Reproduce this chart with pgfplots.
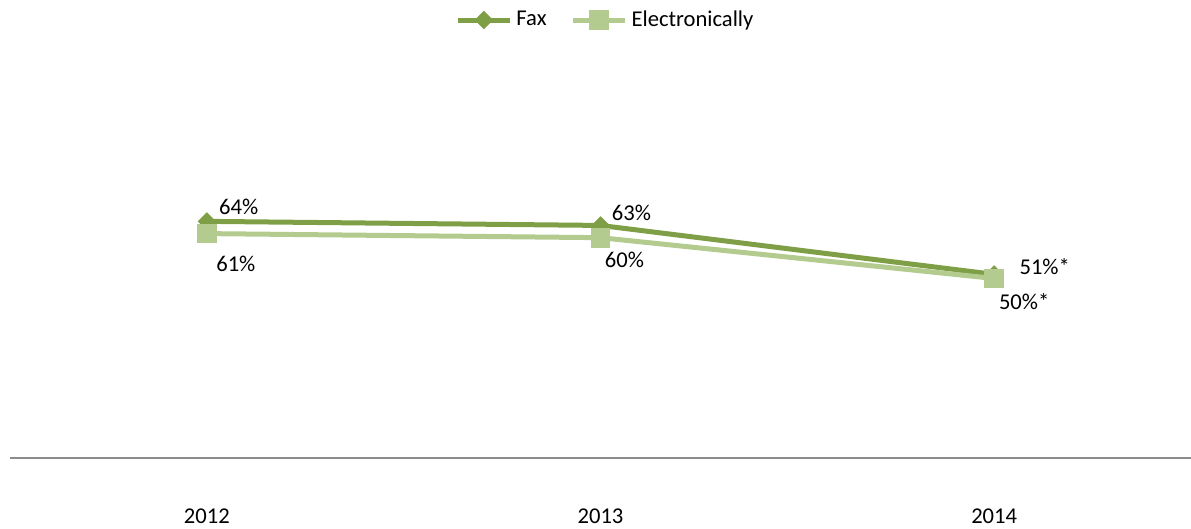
\documentclass[border=0pt]{standalone}
\usepackage{fontspec}
\setmainfont{Carlito}
\usepackage{pgfplots}
\pgfplotsset{compat=1.18}
\definecolor{faxc}{HTML}{7F9F47}
\definecolor{elc}{HTML}{B3CB8F}
\definecolor{axc}{HTML}{8C8C8C}
\newcommand{\lf}{\fontsize{11.3bp}{13.6bp}\selectfont}
\begin{document}
\begin{tikzpicture}
\begin{axis}[
 at={(0,0)}, anchor=south west,
 scale only axis, width=590.5bp, height=204bp,
 xmin=-0.5, xmax=2.5, ymin=6, ymax=106,
 axis x line*=bottom, axis y line=none,
 x axis line style={axc, line width=1bp, -},
 xtick={0,1,2}, xticklabels={2012,2013,2014},
 ytick=\empty,
 major tick length=0pt,
 /pgf/number format/assume math mode=true,
 xticklabel style={font=\lf, anchor=center, yshift=-29bp},
 clip=false,
 legend columns=2,
 legend style={font=\lf, draw=none, fill=none, at={(0.505,1.0735)}, anchor=center,
   /tikz/every even column/.append style={column sep=10bp}},
 legend image code/.code={\draw[#1, mark repeat=2, mark phase=2] plot coordinates {(0bp,0bp) (13bp,0bp) (26bp,0bp)};},
]
\addplot[faxc, line width=2.5bp, mark=square*, mark size=3.0bp, mark options={rotate=45, solid, line width=0.5bp}] coordinates {(0,64)(1,63)(2,51)};
\addlegendentry{Fax}
\addplot[elc, line width=2.5bp, mark=square*, mark size=4.7bp, mark options={solid, line width=0.5bp}] coordinates {(0,61)(1,60)(2,50)};
\addlegendentry{Electronically}
\node[font=\lf, inner sep=0pt, anchor=west, xshift=6bp, yshift=7bp] at (axis cs:0,64) {64\%};
\node[font=\lf, inner sep=0pt, anchor=west, xshift=5.5bp, yshift=6.5bp] at (axis cs:1,63) {63\%};
\node[font=\lf, inner sep=0pt, anchor=west, xshift=12.5bp, yshift=4bp] at (axis cs:2,51) {51\%*};
\node[font=\lf, inner sep=0pt, anchor=center, xshift=14.5bp, yshift=-15bp] at (axis cs:0,61) {61\%};
\node[font=\lf, inner sep=0pt, anchor=center, xshift=12bp, yshift=-11bp] at (axis cs:1,60) {60\%};
\node[font=\lf, inner sep=0pt, anchor=center, xshift=15bp, yshift=-11.5bp] at (axis cs:2,50) {50\%*};
\end{axis}
\pgfresetboundingbox
\path[use as bounding box] (-5bp,-35.5bp) rectangle (590.5bp,229bp);
\end{tikzpicture}
\end{document}
